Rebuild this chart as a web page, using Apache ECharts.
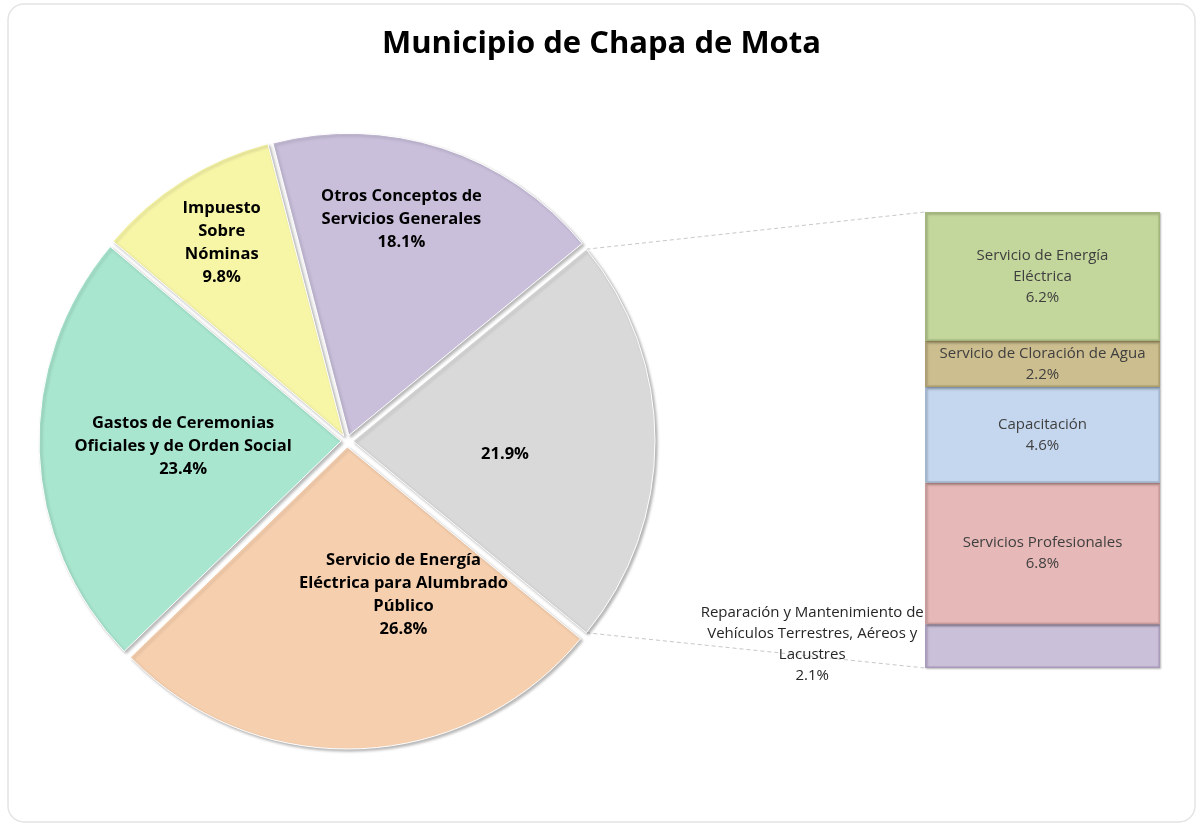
<!DOCTYPE html>
<html>
<head>
<meta charset="utf-8">
<title>Municipio de Chapa de Mota</title>
<script src="https://cdn.jsdelivr.net/npm/echarts@6/dist/echarts.min.js"></script>
<style>
    html, body { margin: 0; padding: 0; background: #fff; }
    #main { width: 1203px; height: 826px; }
</style>
</head>
<body>
<div id="main"></div>
<script>
// pie: first item is the group that is broken out into the bar
var pieNames = [
    '',
    'Servicio de Energía\nEléctrica para Alumbrado\nPúblico',
    'Gastos de Ceremonias\nOficiales y de Orden Social',
    'Impuesto\nSobre\nNóminas',
    'Otros Conceptos de\nServicios Generales'
];
var pieValues = [21.9, 26.8, 23.4, 9.8, 18.1];

// bar of pie, from bottom to top
var barNames = [
    'Reparación y Mantenimiento de\nVehículos Terrestres, Aéreos y\nLacustres',
    'Servicios Profesionales',
    'Capacitación',
    'Servicio de Cloración de Agua',
    'Servicio de Energía\nEléctrica'
];
var barValues = [2.1, 6.8, 4.6, 2.2, 6.2];

var pieColors = ['#d9d9d9', '#f6cfae', '#a8e6cf', '#f7f5a6', '#c9bfdb'];
var barColors = ['#cbc0da', '#e6b8b7', '#c5d7ee', '#cdbe8f', '#c3d69b'];
var barBorders = ['#a99cbb', '#c99a99', '#a2b6d0', '#ad9e70', '#a3b67c'];
// small nudges so the labels sit where Excel put them
var pieLabelOffsets = [[-2, 13], [50, -6], [-4, 0], [-40, -63], [5, -70]];

var FONT = '"Open Sans", "Noto Sans", sans-serif';
var PIE_X = 347, PIE_Y = 441, PIE_R = 302, EXPLODE = 6;
var GRID_LEFT = 925, GRID_TOP = 212, GRID_W = 235, GRID_H = 456;

var total = 0;
barValues.forEach(function (v) { total += v; });
var startAngle = pieValues[0] * 3.6 / 2;

var pieData = pieValues.map(function (v, i) {
    return {
        name: pieNames[i],
        value: v,
        selected: true,
        itemStyle: { color: pieColors[i] },
        label: { offset: pieLabelOffsets[i] },
        select: { label: { offset: pieLabelOffsets[i] } }
    };
});

var barSeries = barValues.map(function (v, i) {
    var label = {
        show: true,
        position: 'inside',
        color: '#3f3f3f',
        fontFamily: FONT,
        fontSize: 15,
        lineHeight: 21,
        formatter: function (p) {
            return p.seriesName + '\n' + p.value.toFixed(1) + '%';
        }
    };
    if (i === 0) {
        // the thin bottom piece gets its label out on the left
        label.position = ['-48%', '45%'];
        label.align = 'center';
        label.verticalAlign = 'middle';
        label.color = '#262626';
    }
    return {
        name: barNames[i],
        type: 'bar',
        stack: 'sub',
        barWidth: '100%',
        data: [v],
        itemStyle: {
            color: barColors[i],
            borderColor: barBorders[i],
            borderWidth: 1.5,
            shadowBlur: 2,
            shadowOffsetX: 1,
            shadowOffsetY: 1,
            shadowColor: 'rgba(0,0,0,0.25)'
        },
        label: label,
        silent: true
    };
});

var myChart = echarts.init(document.getElementById('main'));
var option = {
    backgroundColor: '#fff',
    animation: false,
    title: {
        text: 'Municipio de Chapa de Mota',
        left: 'center',
        top: 24,
        textStyle: {
            fontFamily: FONT,
            fontSize: 31,
            fontWeight: 'bold',
            color: '#000'
        }
    },
    grid: { left: GRID_LEFT, top: GRID_TOP, width: GRID_W, height: GRID_H },
    xAxis: { type: 'category', data: [''], show: false },
    yAxis: { type: 'value', min: 0, max: total, show: false },
    series: [{
        type: 'pie',
        center: [PIE_X, PIE_Y],
        radius: PIE_R,
        startAngle: startAngle,
        clockwise: true,
        selectedMode: 'multiple',
        selectedOffset: EXPLODE,
        silent: true,
        data: pieData,
        itemStyle: {
            borderColor: '#fff',
            borderWidth: 1,
            shadowBlur: 3,
            shadowOffsetX: 2,
            shadowOffsetY: 2,
            shadowColor: 'rgba(0,0,0,0.28)'
        },
        label: {
            show: true,
            position: 'inside',
            color: '#000',
            fontFamily: FONT,
            fontSize: 16.5,
            fontWeight: 'bold',
            lineHeight: 23,
            formatter: function (p) {
                var pct = p.value.toFixed(1) + '%';
                return p.name ? p.name + '\n' + pct : pct;
            }
        },
        labelLine: { show: false }
    }].concat(barSeries)
};
myChart.setOption(option);

// connector lines from the broken out slice to the bar
var rad = startAngle * Math.PI / 180;
var edgeX = PIE_X + EXPLODE + PIE_R * Math.cos(rad);
var dy = PIE_R * Math.sin(rad);
var barTop = myChart.convertToPixel({ yAxisIndex: 0 }, total);
var barBottom = myChart.convertToPixel({ yAxisIndex: 0 }, 0);
var dash = { stroke: '#c8c8c8', lineWidth: 1, lineDash: [4, 3] };
myChart.setOption({
    graphic: [
        {
            type: 'rect',
            shape: { x: 8, y: 4, width: 1187, height: 818, r: 16 },
            style: { fill: 'none', stroke: '#e4e4e4', lineWidth: 1.5 },
            silent: true,
            z: -1
        },
        {
            type: 'line',
            shape: { x1: edgeX, y1: PIE_Y - dy, x2: GRID_LEFT, y2: barTop },
            style: dash,
            silent: true
        },
        {
            type: 'line',
            shape: { x1: edgeX, y1: PIE_Y + dy, x2: GRID_LEFT, y2: barBottom },
            style: dash,
            silent: true
        }
    ]
});
</script>
</body>
</html>
